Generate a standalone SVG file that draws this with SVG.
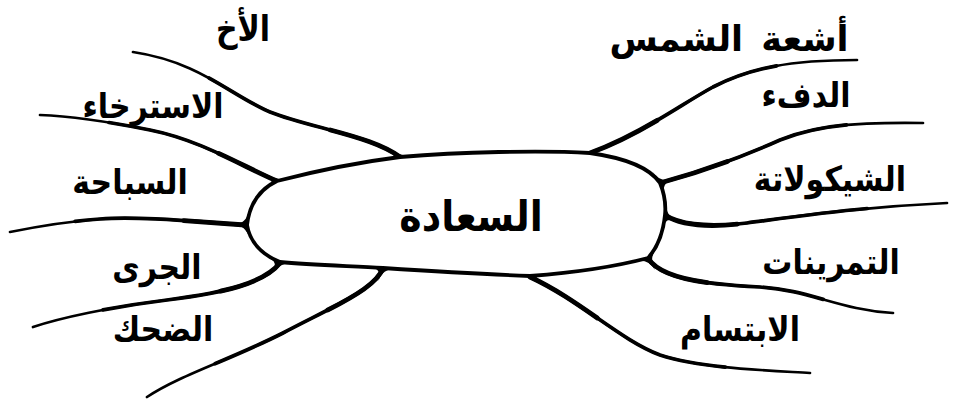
<svg xmlns="http://www.w3.org/2000/svg" width="959" height="401" viewBox="0 0 959 401">
<style>
.bg{fill:#fff}
.br{fill:none;stroke:#000;stroke-width:2.7;stroke-linecap:round;stroke-linejoin:round}
.t1{fill:none;stroke:#000;stroke-width:3.7;stroke-linecap:round;stroke-dasharray:72 1000}
.t2{fill:none;stroke:#000;stroke-width:4.8;stroke-linecap:round;stroke-dasharray:26 1000}
.fl{fill:#000;stroke:none}
.core{fill:#fff;stroke:#000;stroke-width:3.8}
.lb{font-family:"DejaVu Sans",sans-serif;font-weight:bold;font-size:30px;fill:#000;text-anchor:middle}
.ct{font-size:38px}
.ws{word-spacing:6px;font-size:35px}
</style>
<defs>
<path id="b1" pathLength="100" d="M400,157 C370,135 310,128 270,112 C230,95 200,62 133,52"/>
<path id="b2" pathLength="100" d="M277,181 C240,165 200,140 150,130 C110,122 70,116 40,115"/>
<path id="b3" pathLength="100" d="M245,225 C200,222 140,216 100,219 C60,222 30,228 10,232"/>
<path id="b4" pathLength="100" d="M280,263 C265,282 230,292 167,300 C110,307 60,318 33,327"/>
<path id="b5" pathLength="100" d="M383,268 C375,290 330,308 283,333 C230,360 180,375 147,397"/>
<path id="b6" pathLength="100" d="M590,153 C640,135 680,105 713,87 C750,68 790,60 857,60"/>
<path id="b7" pathLength="100" d="M660,183 C700,172 740,158 780,140 C815,126 850,122 923,123"/>
<path id="b8" pathLength="100" d="M665,215 C680,225 710,228 747,223 C800,216 860,207 947,203"/>
<path id="b9" pathLength="100" d="M648,258 C660,278 700,284 760,287 C810,290 840,310 893,313"/>
<path id="b10" pathLength="100" d="M530,277 C580,300 620,340 660,355 C700,368 760,370 810,373"/>
</defs>
<rect class="bg" x="0" y="0" width="959" height="401"/>
<g id="connectors">
<use href="#b1" class="br"/><use href="#b1" class="t1"/><use href="#b1" class="t2"/>
<use href="#b2" class="br"/><use href="#b2" class="t1"/><use href="#b2" class="t2"/>
<use href="#b3" class="br"/><use href="#b3" class="t1"/><use href="#b3" class="t2"/>
<use href="#b4" class="br"/><use href="#b4" class="t1"/><use href="#b4" class="t2"/>
<use href="#b5" class="br"/><use href="#b5" class="t1"/><use href="#b5" class="t2"/>
<use href="#b6" class="br"/><use href="#b6" class="t1"/><use href="#b6" class="t2"/>
<use href="#b7" class="br"/><use href="#b7" class="t1"/><use href="#b7" class="t2"/>
<use href="#b8" class="br"/><use href="#b8" class="t1"/><use href="#b8" class="t2"/>
<use href="#b9" class="br"/><use href="#b9" class="t1"/><use href="#b9" class="t2"/>
<use href="#b10" class="br"/><use href="#b10" class="t1"/><use href="#b10" class="t2"/>
<path class="fl" d="M266,176.2 Q277,181 266.2,186 L277,181Z M266,176.2 Q277,181 290.6,177.5 L277,181Z"/>
<path class="fl" d="M388.7,148.7 Q400,157 386.1,158.7 L400,157Z M388.7,148.7 Q400,157 414,155.9 L400,157Z"/>
<path class="fl" d="M603.2,148.2 Q590,153 576,152.2 L590,153Z M603.2,148.2 Q590,153 603.9,155 L590,153Z"/>
<path class="fl" d="M673.4,179.4 Q660,183 652.3,171.4 L660,183Z M673.4,179.4 Q660,183 665.3,195.9 L660,183Z"/>
<path class="fl" d="M676.6,222.7 Q665,215 666.4,201 L665,215Z M676.6,222.7 Q665,215 663.6,229 L665,215Z"/>
<path class="fl" d="M655.1,270 Q648,258 657.4,247.6 L648,258Z M655.1,270 Q648,258 634.4,261.5 L648,258Z"/>
<path class="fl" d="M542.6,282 Q530,276 543.9,275 L530,276Z M542.6,282 Q530,276 516,275.4 L530,276Z"/>
<path class="fl" d="M378.2,281.2 Q383,268 397,268.8 L383,268Z M378.2,281.2 Q383,268 369,267.2 L383,268Z"/>
<path class="fl" d="M271.6,273.2 Q280,262 294,263.4 L280,262Z M271.6,273.2 Q280,262 267,257 L280,262Z"/>
<path class="fl" d="M233,224.2 Q246,225 248.7,211.1 L246,225Z M233,224.2 Q246,225 249.4,238.7 L246,225Z"/>
</g>
<g id="n-center">
<path class="core" d="M247,225 C250,200 262,188 277,181 C320,170 360,162 400,157 C460,152 540,150 590,153 C625,158 650,168 660,183 C665,195 666,205 665,215 C663,235 657,248 648,258 C610,268 570,273 530,276 C480,274 430,271 383,268 C350,266 310,265 280,262 C262,255 250,242 247,225 Z"/>
<text class="lb ct" transform="translate(471,231) scale(1,1.12)">السعادة</text>
</g>
<g id="n-akh"><text class="lb" transform="translate(243,41) scale(1,1.18)">الأخ</text></g>
<g id="n-istirkha"><text class="lb" transform="translate(153,118) scale(1,1.15)">الاسترخاء</text></g>
<g id="n-sibaha"><text class="lb" transform="translate(130,194) scale(1,1.15)">السباحة</text></g>
<g id="n-jary"><text class="lb" transform="translate(157,279) scale(1,1.15)">الجرى</text></g>
<g id="n-dahk"><text class="lb" transform="translate(163,341) scale(1,1.15)">الضحك</text></g>
<g id="n-shams"><text class="lb ws" transform="translate(729,51) scale(1,1.02)">أشعة الشمس</text></g>
<g id="n-dif"><text class="lb" transform="translate(806,107) scale(1,1.15)">الدفء</text></g>
<g id="n-choc"><text class="lb" transform="translate(830,191) scale(1,1.15)">الشيكولاتة</text></g>
<g id="n-tamrinat"><text class="lb" transform="translate(831,274) scale(1,1.15)">التمرينات</text></g>
<g id="n-ibtisam"><text class="lb" transform="translate(740,341) scale(1,1.15)">الابتسام</text></g>
</svg>
